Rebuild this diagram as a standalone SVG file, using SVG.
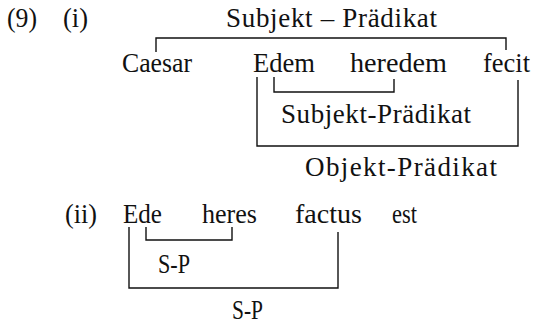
<svg xmlns="http://www.w3.org/2000/svg" width="533" height="325" viewBox="0 0 533 325">
<style>
text{font-family:"Liberation Serif","DejaVu Serif",serif;font-size:27px;fill:#111}
.c{fill:none;stroke:#111;stroke-width:1.4}
</style>
<rect width="533" height="325" fill="#fff"/>
<g id="labels">
<text x="7" y="27" textLength="30" lengthAdjust="spacingAndGlyphs">(9)</text>
<text x="63" y="27" textLength="25" lengthAdjust="spacingAndGlyphs">(i)</text>
<text x="65" y="223" textLength="32" lengthAdjust="spacingAndGlyphs">(ii)</text>
</g>
<g id="node-sp-top"><text x="226" y="27" textLength="211" lengthAdjust="spacing">Subjekt – Prädikat</text></g>
<g id="node-caesar"><text x="122" y="72" textLength="70" lengthAdjust="spacingAndGlyphs">Caesar</text></g>
<g id="node-edem"><text x="253" y="72" textLength="62" lengthAdjust="spacingAndGlyphs">Edem</text></g>
<g id="node-heredem"><text x="350" y="72" textLength="97" lengthAdjust="spacingAndGlyphs">heredem</text></g>
<g id="node-fecit"><text x="483" y="72" textLength="47" lengthAdjust="spacingAndGlyphs">fecit</text></g>
<g id="node-sp-inner"><text x="281" y="123" textLength="190" lengthAdjust="spacing">Subjekt-Prädikat</text></g>
<g id="node-op"><text x="305" y="176" textLength="192" lengthAdjust="spacing">Objekt-Prädikat</text></g>
<g id="node-ede"><text x="123" y="223" textLength="39" lengthAdjust="spacingAndGlyphs">Ede</text></g>
<g id="node-heres"><text x="202" y="223" textLength="55" lengthAdjust="spacingAndGlyphs">heres</text></g>
<g id="node-factus"><text x="295" y="223" textLength="67" lengthAdjust="spacingAndGlyphs">factus</text></g>
<g id="node-est"><text x="392" y="223" textLength="25" lengthAdjust="spacingAndGlyphs">est</text></g>
<g id="node-sp-ii-inner"><text x="158" y="273" textLength="32" lengthAdjust="spacingAndGlyphs">S-P</text></g>
<g id="node-sp-ii-outer"><text x="232" y="319" textLength="31" lengthAdjust="spacingAndGlyphs">S-P</text></g>
<g id="connectors">
<path class="c" d="M156 52V38H506V50"/>
<path class="c" d="M257 77V146H518V80"/>
<path class="c" d="M274 77V92H394V79"/>
<path class="c" d="M129 227V288H338V232"/>
<path class="c" d="M146 227V240H232V227"/>
</g>
</svg>
